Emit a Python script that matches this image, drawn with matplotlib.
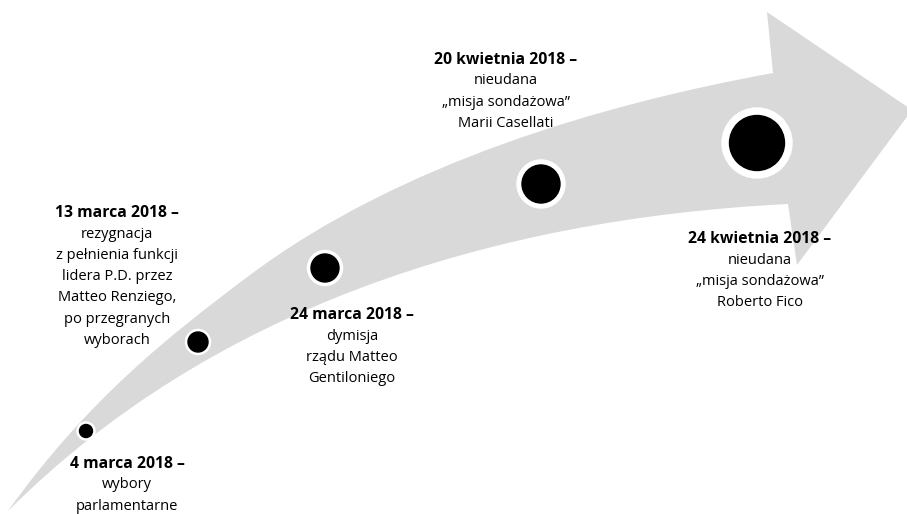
'''
Timeline of the 2018 Italian government crisis on a curved arrow
'''

import matplotlib.pyplot as plt
from matplotlib.path import Path
from matplotlib.patches import PathPatch, Circle

# event data
dates = ['4 marca 2018', '13 marca 2018', '24 marca 2018',
         '20 kwietnia 2018', '24 kwietnia 2018']
descriptions = [
    'wybory\nparlamentarne',
    'rezygnacja\nz pełnienia funkcji\nlidera P.D. przez\n'
    'Matteo Renziego,\npo przegranych\nwyborach',
    'dymisja\nrządu Matteo\nGentiloniego',
    'nieudana\n„misja sondażowa”\nMarii Casellati',
    'nieudana\n„misja sondażowa”\nRoberto Fico',
]

# layout (pixel-like coordinates, y grows downwards)
marker_x = [86, 198, 325, 541, 757]
marker_y = [431, 342, 268, 184, 143]
marker_r = [6.5, 10, 14, 19, 27.5]
ring_w = [2.5, 2.5, 3.5, 5, 7.5]
label_x = [127, 117, 352, 506, 760]
label_y = [456, 205, 307, 52, 231]

# arrow outline: upper edge (two curves), head, lower edge back to the tail
arrow_verts = [
    (8, 511), (88, 399), (170, 335), (250, 275),
    (400, 163), (603, 104), (773, 73),
    (767, 12), (912, 110), (797, 265), (788, 204),
    (487, 219), (208, 311), (8, 511), (8, 511),
]
arrow_codes = [
    Path.MOVETO, Path.CURVE4, Path.CURVE4, Path.CURVE4,
    Path.CURVE4, Path.CURVE4, Path.CURVE4,
    Path.LINETO, Path.LINETO, Path.LINETO, Path.LINETO,
    Path.CURVE4, Path.CURVE4, Path.CURVE4, Path.CLOSEPOLY,
]

GRAY = '#d9d9d9'
FONT = 'Open Sans'


def draw_arrow(ax):
    '''
    Gray curved arrow in the background
    '''
    path = Path(arrow_verts, arrow_codes)
    ax.add_patch(PathPatch(path, facecolor=GRAY, edgecolor='none'))


def draw_events(ax):
    '''
    Black dots with white ring and the centered captions
    '''
    for i, date in enumerate(dates):
        ax.add_patch(Circle((marker_x[i], marker_y[i]),
                            marker_r[i] + ring_w[i], color='white', zorder=3))
        ax.add_patch(Circle((marker_x[i], marker_y[i]),
                            marker_r[i], color='black', zorder=4))
        ax.text(label_x[i], label_y[i], date + ' –', ha='center', va='top',
                fontsize=11.3, fontweight='bold', family=FONT, zorder=5)
        ax.text(label_x[i], label_y[i] + 21.5, descriptions[i], ha='center',
                va='top', fontsize=10.5, family=FONT, linespacing=1.57,
                zorder=5)


def run():
    '''
    Build the figure and save it
    '''
    fig = plt.figure(figsize=(9.07, 5.14), dpi=100)
    ax = fig.add_axes([0, 0, 1, 1])
    ax.set_xlim(0, 907)
    ax.set_ylim(514, 0)
    ax.axis('off')
    draw_arrow(ax)
    draw_events(ax)
    fig.savefig('out.png', dpi=100, facecolor='white')


run()
